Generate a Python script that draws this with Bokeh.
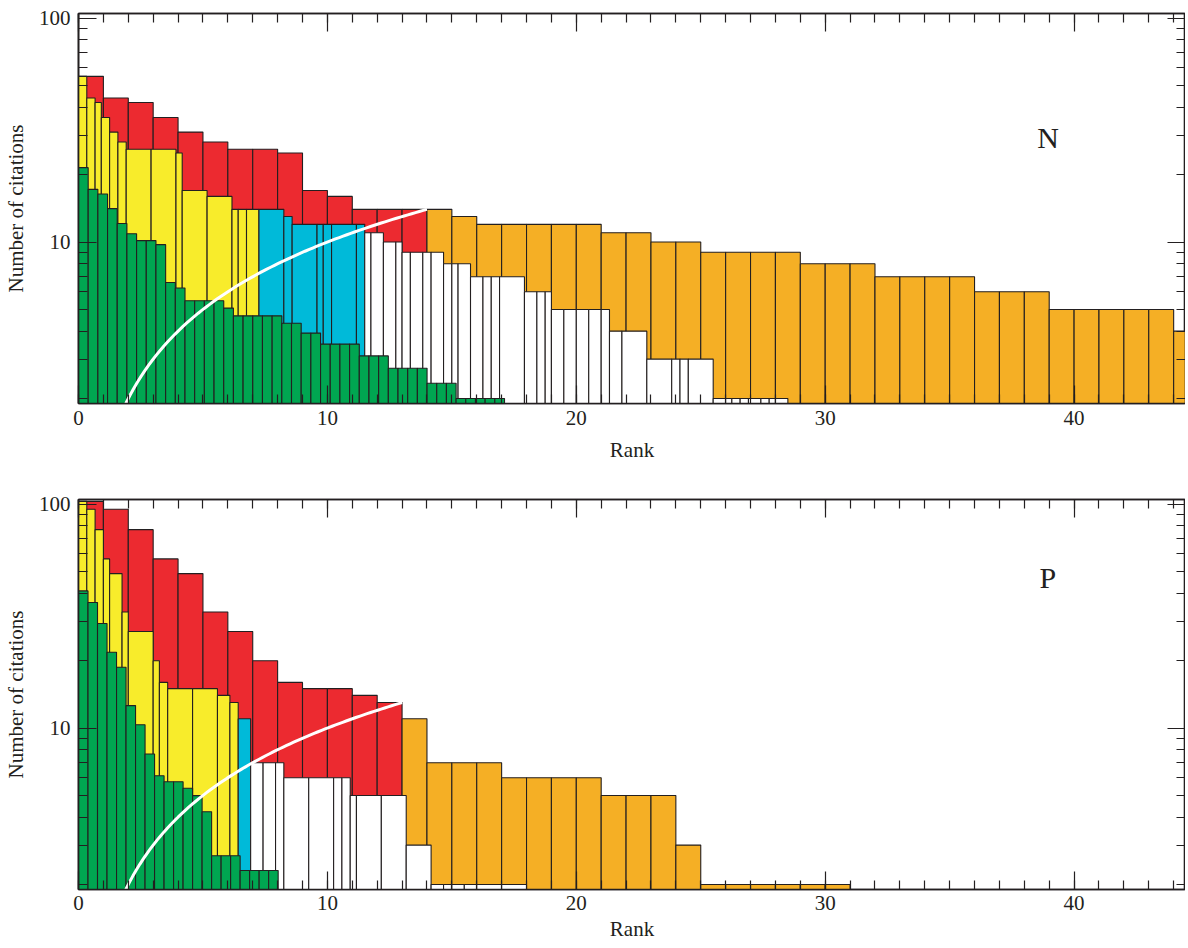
import numpy as np
from bokeh.plotting import figure
from bokeh.models import (Range1d, FixedTicker, LinearAxis, LogAxis,
                          PrintfTickFormatter, Label, ColumnDataSource)
from bokeh.layouts import column
from bokeh.embed import file_html
from bokeh.resources import INLINE

# ---------------- data: panel N ----------------
n_citations = [55, 44, 42, 36, 31, 28, 26, 26, 25, 17, 16, 14, 14, 14,
               14, 13, 12, 12, 12, 12, 12, 11, 11, 10, 10, 9, 9, 9, 9,
               8, 8, 8, 7, 7, 7, 7, 6, 6, 6, 5, 5, 5, 5, 5, 4, 4,
               3, 3, 3, 3, 2, 2, 2, 2, 2, 2, 2, 2]
n_authors = [3, 3, 4, 3, 3, 3, 1, 1, 4, 1, 1, 4, 3, 2,
             1, 3, 1, 4, 3, 1, 3, 4, 2, 2, 4, 3, 2, 3, 2,
             3, 4, 2, 2, 3, 3, 1, 2, 3, 4, 2, 2, 2, 2, 3, 2, 1,
             1, 3, 3, 1, 2, 4, 3, 3, 2, 3, 4, 2]
n_green = [21.5, 17.2, 16.4, 14.1, 12.1, 10.9, 10.15, 10.15, 9.74, 6.6, 6.23,
           5.47, 5.47, 5.47, 5.47, 5.07, 4.68, 4.68, 4.68, 4.68, 4.68,
           4.34, 4.34, 3.92, 3.92, 3.5, 3.5, 3.5, 3.5, 3.1, 3.1, 3.1,
           2.73, 2.73, 2.73, 2.73, 2.34, 2.34, 2.34, 2.0, 2.0, 2.0, 2.0, 2.0]
n_green_width = 0.389

# ---------------- data: panel P ----------------
p_citations = [103, 95, 77, 57, 49, 33, 27, 20, 16, 15, 15, 14, 13, 11,
               7, 7, 7, 6, 6, 6, 6, 5, 5, 5, 3, 2, 2, 2, 2, 2, 2]
p_authors = [3, 3, 3, 4, 2, 4, 1, 4, 3, 1, 1, 2, 3, 2,
             2, 2, 3, 1, 1, 3, 3, 4, 1, 1, 1, 2, 3, 2, 2, 1, 1]
p_green = [41, 36.4, 29.3, 21.8, 18.7, 12.6, 10.35, 7.66, 6.12, 5.76, 5.76,
           5.38, 4.99, 4.23, 2.69, 2.69, 2.69, 2.31, 2.31, 2.31, 2.31]
p_green_width = 0.382

x_ticks = [0, 10, 20, 30, 40]
x_minor = list(range(0, 46))
y_ticks = [10, 100]
y_minor = [2, 3, 4, 5, 6, 7, 8, 9, 20, 30, 40, 50, 60, 70, 80, 90]

# ---------------- style ----------------
RED = "#EC2A30"
ORANGE = "#F5AF25"
YELLOW = "#F8EC2B"
CYAN = "#00BAD9"
WHITE = "#FFFFFF"
GREEN = "#00A651"
EDGE = "#231F20"
FONT = "Liberation Serif"
Y_MIN, Y_MAX = 1.9, 105
FRAME_W = 1107
PX_PER_RANK = 24.89
X_END = FRAME_W / PX_PER_RANK


def style_axis(ax, labels=True):
    ax.axis_line_color = EDGE
    ax.axis_line_width = 1.6
    ax.major_tick_line_color = EDGE
    ax.minor_tick_line_color = EDGE
    ax.major_tick_in = 18
    ax.major_tick_out = 0
    ax.minor_tick_in = 9
    ax.minor_tick_out = 0
    ax.major_tick_line_width = 1.2
    ax.minor_tick_line_width = 1.2
    if labels:
        ax.major_label_text_font = FONT
        ax.major_label_text_font_size = "21px"
        ax.major_label_text_color = EDGE
        ax.axis_label_text_font = FONT
        ax.axis_label_text_font_size = "21px"
        ax.axis_label_text_font_style = "normal"
        ax.axis_label_text_color = EDGE
    else:
        ax.major_label_text_font_size = "1px"
        ax.major_label_text_color = None
        ax.major_label_standoff = 0


def make_panel(cites, authors, green, green_w, tag, tag_y, height,
               top_b, bottom_b, tick_standoff, lab_standoff):
    p = figure(frame_width=FRAME_W, height=height, x_range=Range1d(0, X_END),
               y_range=Range1d(Y_MIN, Y_MAX), y_axis_type="log",
               output_backend="svg", toolbar_location=None,
               min_border_left=70, min_border_right=0,
               min_border_top=top_b, min_border_bottom=bottom_b,
               background_fill_color="white", border_fill_color="white")
    p.grid.visible = False
    p.outline_line_color = EDGE
    p.outline_line_width = 1.6

    cites = np.array(cites, dtype=float)
    n = len(cites)
    rank = np.arange(1, n + 1)
    h = int(np.sum(cites >= rank))

    # standard counting: unit-width bars, red = h-core, orange = tail
    std = ColumnDataSource(dict(
        left=rank - 1.0, right=rank * 1.0, top=cites,
        color=[RED if i < h else ORANGE for i in range(n)]))
    p.quad(left="left", right="right", top="top", bottom=1.0,
           fill_color="color", line_color=EDGE, line_width=1.1, source=std)

    # fractional counting: bar width 1/authors
    w = 1.0 / np.array(authors, dtype=float)
    right = np.cumsum(w)
    left = right - w
    frac_core = cites >= right
    fcol = []
    for i in range(n):
        if i < h:
            fcol.append(YELLOW)
        elif frac_core[i]:
            fcol.append(CYAN)
        else:
            fcol.append(WHITE)
    frac = ColumnDataSource(dict(left=left, right=right, top=cites, color=fcol))
    p.quad(left="left", right="right", top="top", bottom=1.0,
           fill_color="color", line_color=EDGE, line_width=1.1, source=frac)

    # green: normalised citations, uniform narrow bars
    g = np.array(green, dtype=float)
    gl = np.arange(len(g)) * green_w
    gsrc = ColumnDataSource(dict(left=gl, right=gl + green_w, top=g))
    p.quad(left="left", right="right", top="top", bottom=1.0,
           fill_color=GREEN, line_color=EDGE, line_width=1.1, source=gsrc)

    # h-index diagonal (citations = rank)
    diag = np.linspace(Y_MIN, h, 80)
    p.line(diag, diag, line_color="white", line_width=3)

    p.add_layout(Label(x=38.95, y=tag_y, text=tag, text_font=FONT,
                       text_font_size="30px", text_color=EDGE,
                       text_align="center", text_baseline="middle"))

    xa = p.xaxis[0]
    xa.ticker = FixedTicker(ticks=x_ticks, minor_ticks=x_minor)
    xa.axis_label = "Rank"
    style_axis(xa)
    xa.major_label_standoff = tick_standoff
    xa.axis_label_standoff = lab_standoff
    ya = p.yaxis[0]
    ya.ticker = FixedTicker(ticks=y_ticks, minor_ticks=y_minor)
    ya.formatter = PrintfTickFormatter(format="%d")
    ya.axis_label = "Number of citations"
    style_axis(ya)
    ya.major_label_standoff = 8
    ya.axis_label_standoff = 8

    top_ax = LinearAxis(ticker=FixedTicker(ticks=x_ticks, minor_ticks=x_minor))
    style_axis(top_ax, labels=False)
    p.add_layout(top_ax, "above")
    right_ax = LogAxis(ticker=FixedTicker(ticks=y_ticks, minor_ticks=y_minor))
    style_axis(right_ax, labels=False)
    p.add_layout(right_ax, "right")
    return p


p1 = make_panel(n_citations, n_authors, n_green, n_green_width, "N", 29.4,
                height=470, top_b=13, bottom_b=67,
                tick_standoff=7, lab_standoff=10)
p2 = make_panel(p_citations, p_authors, p_green, p_green_width, "P", 47.2,
                height=477, top_b=29, bottom_b=58,
                tick_standoff=6, lab_standoff=4)

layout = column(p1, p2, spacing=0)
open("out.html", "w").write(file_html(layout, INLINE))
